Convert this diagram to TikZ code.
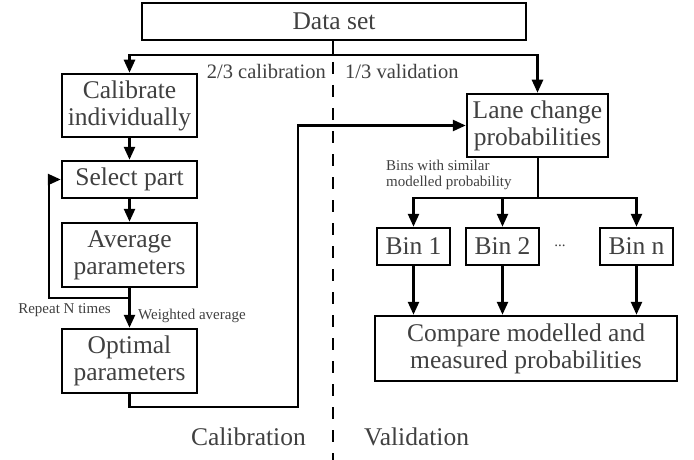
\documentclass[tikz,border=0pt]{standalone}
\usepackage{fontspec}
\setmainfont{Liberation Serif}
\usetikzlibrary{arrows.meta}
\definecolor{txt}{HTML}{404040}
\begin{document}
\begin{tikzpicture}[x=1pt,y=-1pt,
  box/.style={draw=black,line width=2.5pt,rectangle,inner sep=0pt,align=center,text=txt,
    font=\fontsize{25.5}{27}\selectfont},
  arr/.style={line width=2.5pt,-{Triangle[width=11pt,length=13pt]}},
  ln/.style={line width=2.5pt},
  lbl/.style={text=txt,inner sep=0pt,font=\fontsize{20.5}{22}\selectfont},
  sml/.style={text=txt,inner sep=0pt,align=left,font=\fontsize{15}{16}\selectfont},
  big/.style={text=txt,inner sep=0pt,font=\fontsize{25.5}{27}\selectfont}]
\useasboundingbox (0,0) rectangle (694,460);
% nodes
\node[box,minimum width=384pt,minimum height=37pt] (data) at (334,21.5) {Data set};
\node[box,minimum width=135pt,minimum height=63pt] (calib) at (129.5,105.5) {Calibrate\\individually};
\node[box,minimum width=135pt,minimum height=37pt] (sel) at (129.5,179.5) {Select part};
\node[box,minimum width=135pt,minimum height=64pt] (avg) at (129.5,255) {Average\\parameters};
\node[box,minimum width=135pt,minimum height=64pt] (opt) at (129.5,361) {Optimal\\parameters};
\node[box,minimum width=141pt,minimum height=63pt] (lane) at (537.5,125.5) {Lane change\\probabilities};
\node[box,minimum width=73pt,minimum height=37pt] (bin1) at (413.5,246.5) {Bin 1};
\node[box,minimum width=73pt,minimum height=37pt] (bin2) at (502.5,246.5) {Bin 2};
\node[box,minimum width=73pt,minimum height=37pt] (binn) at (636.5,246.5) {Bin n};
\node[box,minimum width=302pt,minimum height=65pt] (cmp) at (526,348.5) {Compare modelled and\\measured probabilities};
% labels
\node[lbl,anchor=east] (l23) at (326,71) {2/3 calibration};
\node[lbl,anchor=west] (l13) at (345,71) {1/3 validation};
\node[sml,anchor=west] (lbins) at (386,175) {Bins with similar\\modelled probability};
\node[sml,anchor=east] (lrep) at (111,310) {Repeat N times};
\node[sml,anchor=west] (lwav) at (138,316) {Weighted average};
\node[sml] (dots) at (560,246) {...};
\node[big,anchor=east] (lcal) at (306,437) {Calibration};
\node[big,anchor=west] (lval) at (364,437) {Validation};
% coordinates
\coordinate (sp) at (333,55);
\coordinate (dtop) at (333,62);
\coordinate (dbot) at (333,460);
\coordinate (lp) at (49,298);
\coordinate (c1) at (298,407);
\coordinate (bs) at (538,198);
% connectors
\draw[ln] (data.south -| sp) -- (sp);
\draw[arr] (sp) -| (calib.north);
\draw[arr] (sp) -| (lane.north);
\draw[line width=2.5pt,dash pattern=on 12pt off 11pt] (dtop) -- (dbot);
\draw[arr] (calib.south) -- (sel.north);
\draw[arr] (sel.south) -- (avg.north);
\draw[arr] (avg.south) -- (opt.north);
\draw[arr] (avg.south) |- (lp) |- (sel.west);
\draw[arr] (opt.south) |- (c1) |- (lane.west);
\draw[ln] (lane.south -| bs) -- (bs);
\draw[arr] (bs) -| (bin1.north);
\draw[arr] (bs) -| (bin2.north);
\draw[arr] (bs) -| (binn.north);
\draw[arr] (bin1.south) -- (bin1.south |- cmp.north);
\draw[arr] (bin2.south) -- (bin2.south |- cmp.north);
\draw[arr] (binn.south) -- (binn.south |- cmp.north);
\end{tikzpicture}
\end{document}
